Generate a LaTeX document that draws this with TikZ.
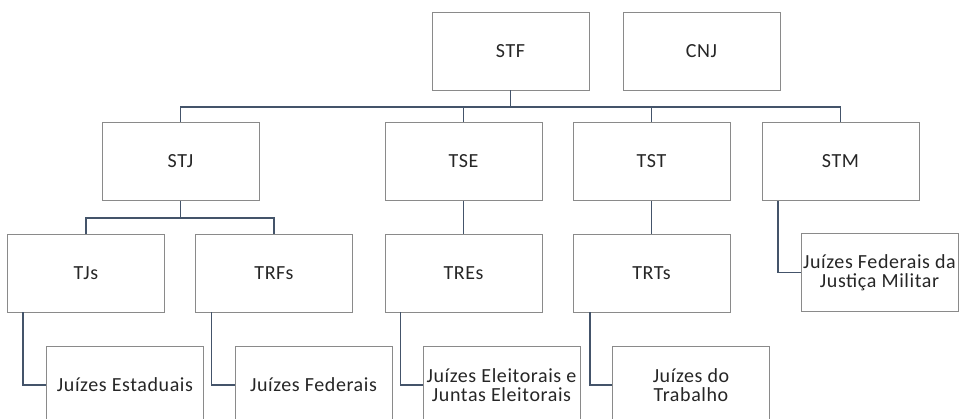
\documentclass[tikz,border=0pt]{standalone}
\usepackage{fontspec}
\setmainfont{Carlito}[LetterSpace=3]
\definecolor{boxline}{HTML}{8A8A8A}
\definecolor{connc}{HTML}{44546A}
\begin{document}
\begin{tikzpicture}[x=1pt,y=-1pt,
  orgbox/.style={draw=boxline,line width=0.9pt,fill=white,minimum width=157pt,minimum height=78pt,inner sep=0pt,align=center,text=black!85,font=\fontsize{20}{19.5}\selectfont},
  conn/.style={draw=connc,line width=1.7pt}]
\useasboundingbox (0,0) rectangle (960,419);
\coordinate (bus1) at (510.5,107);
\coordinate (bus2) at (180.5,218);
% nodes
\node[orgbox] (STF) at (510.5,51) {STF};
\node[orgbox] (CNJ) at (701.5,51) {CNJ};
\node[orgbox] (STJ) at (180.5,161.5) {STJ};
\node[orgbox] (TSE) at (463.5,161.5) {TSE};
\node[orgbox] (TST) at (651.5,161.5) {TST};
\node[orgbox] (STM) at (840.5,161.5) {STM};
\node[orgbox] (TJs) at (86,273) {TJs};
\node[orgbox] (TRFs) at (274,273) {TRFs};
\node[orgbox] (TREs) at (463.5,273) {TREs};
\node[orgbox] (TRTs) at (651.5,273) {TRTs};
\node[orgbox] (JE) at (125,385) {Juízes Estaduais};
\node[orgbox] (JF) at (313.5,385) {Juízes Federais};
\node[orgbox] (JEL) at (501.5,385) {Juízes Eleitorais e\\Juntas Eleitorais};
\node[orgbox] (JT) at (691,385) {Juízes do\\Trabalho};
\node[orgbox] (JM) at (879.5,272.5) {Juízes Federais da\\Justiça Militar};
% level 1
\draw[conn] (STF.south) -- (bus1);
\draw[conn] (bus1) -| (STJ.north);
\draw[conn] (bus1) -| (STM.north);
\draw[conn] (bus1 -| TSE.north) -- (TSE.north);
\draw[conn] (bus1 -| TST.north) -- (TST.north);
% level 2
\draw[conn] (STJ.south) -- (bus2);
\draw[conn] (bus2) -| (TJs.north);
\draw[conn] (bus2) -| (TRFs.north);
\draw[conn] (TSE.south) -- (TREs.north);
\draw[conn] (TST.south) -- (TRTs.north);
% elbows
\draw[conn] ([xshift=16pt]TJs.south west) |- (JE.west);
\draw[conn] ([xshift=16.5pt]TRFs.south west) |- (JF.west);
\draw[conn] ([xshift=16pt]TREs.south west) |- (JEL.west);
\draw[conn] ([xshift=17.5pt]TRTs.south west) |- (JT.west);
\draw[conn] ([xshift=16.5pt]STM.south west) |- (JM.west);
\end{tikzpicture}
\end{document}
